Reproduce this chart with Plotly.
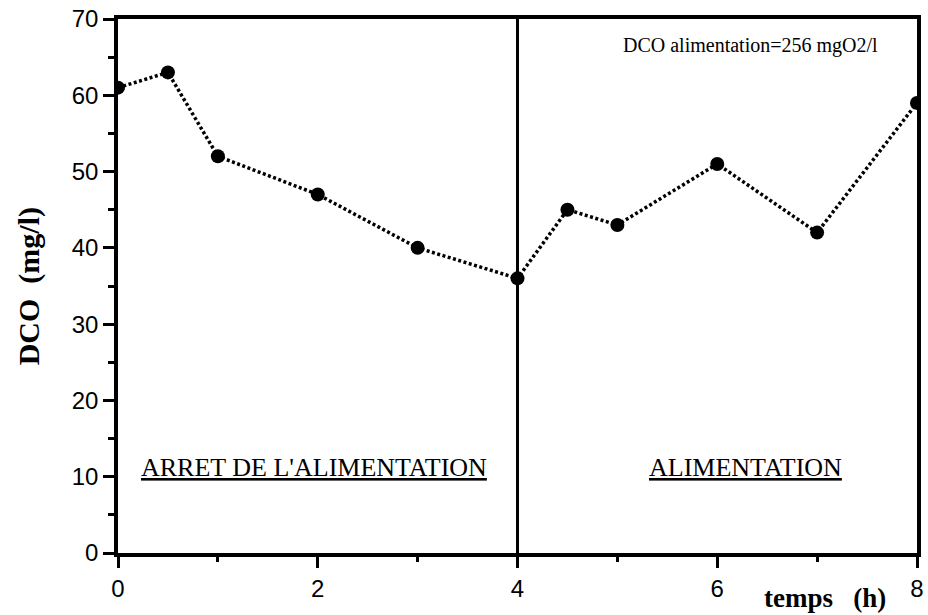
import plotly.graph_objects as go

# DCO over time (h)
temps = [0, 0.5, 1, 2, 3, 4, 4.5, 5, 6, 7, 8]
dco = [61, 63, 52, 47, 40, 36, 45, 43, 51, 42, 59]

x_ticks = [0, 2, 4, 6, 8]
x_minor = [1, 3, 5, 7]
y_ticks = [0, 10, 20, 30, 40, 50, 60, 70]
y_minor = [5, 15, 25, 35, 45, 55, 65]

fig = go.Figure()

fig.add_trace(go.Scatter(
    x=temps, y=dco,
    mode="lines+markers",
    line=dict(color="black", width=3.5, dash="3px,2.5px"),
    marker=dict(color="black", size=14),
    showlegend=False,
))

# separation between the two phases
fig.add_shape(type="line", x0=4, x1=4, y0=0, y1=70, xref="x", yref="y",
              line=dict(color="black", width=3))

serif = "Liberation Serif"

fig.add_annotation(x=1.96, y=11.2, text="<u>ARRET DE L'ALIMENTATION</u>", showarrow=False,
                   font=dict(family=serif, size=26, color="black"))
fig.add_annotation(x=6.28, y=11.2, text="<u>ALIMENTATION</u>", showarrow=False,
                   font=dict(family=serif, size=26, color="black"))
fig.add_annotation(x=6.33, y=66.5, text="DCO alimentation=256 mgO2/l", showarrow=False,
                   font=dict(family=serif, size=20, color="black"))
fig.add_annotation(xref="paper", yref="paper", x=0.885, y=-0.085,
                   xanchor="center", yanchor="middle",
                   text="<b>temps   (h)</b>", showarrow=False,
                   font=dict(family=serif, size=27, color="black"))
fig.add_annotation(xref="paper", yref="paper", x=-0.111, y=0.5, textangle=-90,
                   xanchor="center", yanchor="middle",
                   text="<b>DCO  (mg/l)</b>", showarrow=False,
                   font=dict(family=serif, size=30, color="black"))

fig.update_xaxes(
    range=[0, 8], tickvals=x_ticks, ticks="outside", ticklen=11, tickwidth=3,
    minor=dict(tickvals=x_minor, ticks="outside", ticklen=5, tickwidth=2.5, tickcolor="black"),
    tickcolor="black", showline=True, linecolor="black", linewidth=3.5, mirror=True,
    showgrid=False, zeroline=False, automargin=False, ticklabeloverflow="allow",
    tickfont=dict(family="Liberation Sans", size=24, color="black"),
)
fig.update_yaxes(
    range=[0, 70], tickvals=y_ticks, ticks="outside", ticklen=11, tickwidth=3,
    minor=dict(tickvals=y_minor, ticks="outside", ticklen=6, tickwidth=2.5, tickcolor="black"),
    tickcolor="black", showline=True, linecolor="black", linewidth=3.5, mirror=True,
    showgrid=False, zeroline=False, automargin=False, ticklabeloverflow="allow",
    tickfont=dict(family="Liberation Sans", size=24, color="black"),
)

fig.update_layout(
    width=928, height=615,
    margin=dict(l=118, r=11, t=19, b=62),
    plot_bgcolor="white", paper_bgcolor="white",
)

# drop the default page margin so the figure fills the window exactly
fig.write_html("out.html", config={"displayModeBar": False},
               post_script="document.body.style.margin='0';document.body.style.overflow='hidden';")
